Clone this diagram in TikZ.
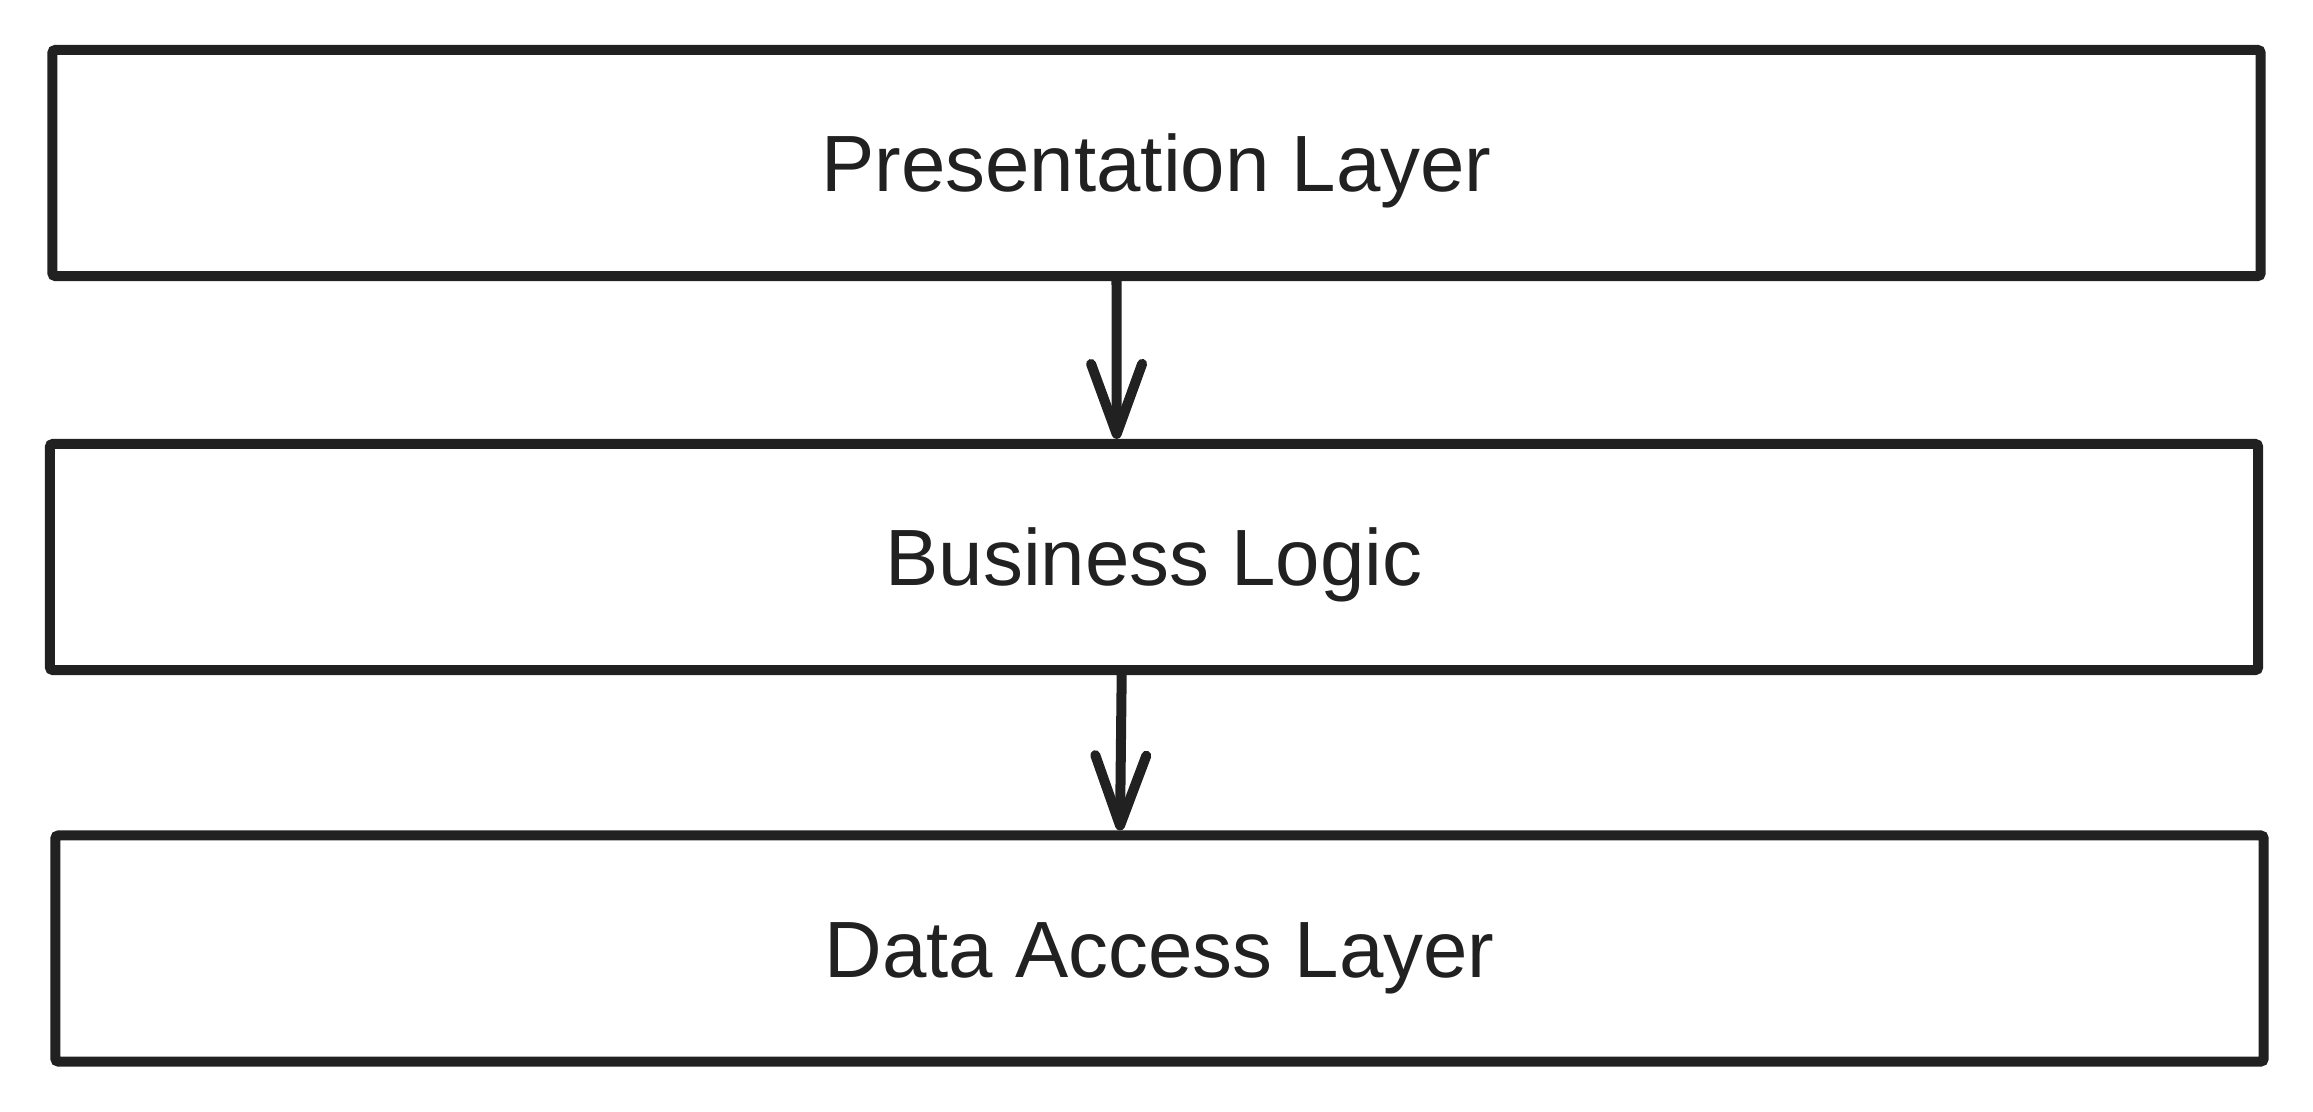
\documentclass[tikz,border=0pt]{standalone}
\usepackage{fontspec}
\setmainfont{Liberation Sans}
\usetikzlibrary{arrows.meta}
\definecolor{ink}{RGB}{33,33,33}
\begin{document}
\begin{tikzpicture}[x=0.01cm, y=-0.01cm,
  layer/.style={draw=ink, line width=0.1cm, rounded corners=0.03cm, inner sep=0pt,
    minimum width=22.07cm, minimum height=2.26cm, text=ink,
    font=\fontsize{22.7}{28}\selectfont, text height=16.3pt, text depth=0pt},
  arr/.style={draw=ink, line width=0.1cm, -{Straight Barb[length=0.7cm, width=0.51cm, round]}}]
\useasboundingbox (0,0) rectangle (2313,1111);
\node[layer] (pres) at (1156.5,163) {Presentation Layer};
\node[layer] (logic) at (1154,557) {Business Logic};
\node[layer] (data) at (1159.5,948.5) {Data Access Layer};
\draw[arr] ([xshift=-0.4cm]pres.south) -- ([xshift=-0.373cm]logic.north);
\draw[arr] ([xshift=-0.323cm]logic.south) -- ([xshift=-0.395cm]data.north);

\end{tikzpicture}
\end{document}
